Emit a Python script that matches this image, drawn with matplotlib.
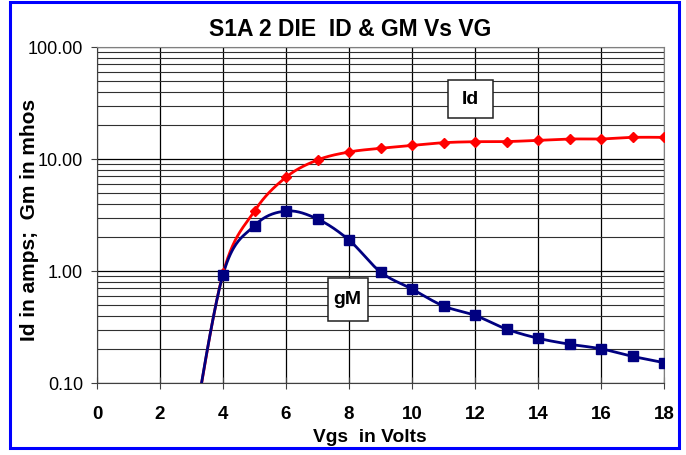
import numpy as np
import matplotlib
matplotlib.use("Agg")
import matplotlib.pyplot as plt
from matplotlib.patches import Rectangle

plt.rcParams['font.family'] = ['Liberation Sans', 'DejaVu Sans']

vgs = [3, 4, 5, 6, 7, 8, 9, 10, 11, 12, 13, 14, 15, 16, 17, 18]
id_amps = [0.03, 0.95, 3.43, 6.87, 9.8, 11.55, 12.46, 13.2, 13.98, 14.27, 14.3,
           14.69, 15.09, 15.1, 15.6, 15.6]
gm_mhos = [0.03, 0.93, 2.54, 3.43, 2.91, 1.89, 0.98, 0.69, 0.487, 0.402, 0.303,
           0.251, 0.222, 0.202, 0.173, 0.152]
xticks = [0, 2, 4, 6, 8, 10, 12, 14, 16, 18]
yticks = [0.1, 1, 10, 100]
ytick_labels = ["0.10", "1.00", "10.00", "100.00"]

W, H = 686, 455


def smooth(xs, ys, n=40):
    P = np.column_stack([np.asarray(xs, float), np.log10(ys)])
    out = []
    for i in range(len(P) - 1):
        p0 = P[i - 1] if i > 0 else P[i]
        p1, p2 = P[i], P[i + 1]
        p3 = P[i + 2] if i + 2 < len(P) else P[i + 1]
        c1 = p1 + (p2 - p0) / 6
        c2 = p2 - (p3 - p1) / 6
        t = np.linspace(0, 1, n)[:, None]
        seg = ((1 - t) ** 3) * p1 + 3 * (1 - t) ** 2 * t * c1 + 3 * (1 - t) * t ** 2 * c2 + t ** 3 * p2
        out.append(seg if i == 0 else seg[1:])
    a = np.vstack(out)
    return a[:, 0], 10 ** a[:, 1]


def fx(px):
    return px / W


def fy(py):
    return 1 - py / H


fig = plt.figure(figsize=(W / 100, H / 100), dpi=100)
ax = fig.add_axes([fx(97), fy(383), (664 - 97) / W, (383 - 47) / H])

ax.set_yscale('log')
ax.set_xlim(0, 18)
ax.set_ylim(0.1, 100)

ax.set_yticks(yticks)
ax.set_yticklabels(ytick_labels, fontsize=13)
ax.yaxis.set_minor_locator(matplotlib.ticker.LogLocator(base=10, subs=np.arange(2, 10)))
ax.yaxis.set_minor_formatter(matplotlib.ticker.NullFormatter())
ax.grid(True, which='major', axis='y', color='black', lw=0.9)
ax.grid(True, which='minor', axis='y', color='#303030', lw=0.8)
ax.set_xticks(xticks)
ax.set_xticklabels([str(v) for v in xticks], fontsize=13.5, fontweight='bold')
ax.grid(True, which='major', axis='x', color='black', lw=0.9)
ax.tick_params(axis='y', which='minor', length=0)
ax.tick_params(axis='y', which='major', length=4.5, direction='out', pad=5.5, color='#404040')
ax.tick_params(axis='x', which='major', length=8, direction='inout', pad=12.5, color='#404040')
for s in ['top', 'right']:
    ax.spines[s].set_color('#808080')
for s in ['left', 'bottom']:
    ax.spines[s].set_color('#404040')
ax.set_axisbelow(True)

xs, ys = smooth(vgs, id_amps)
ax.plot(xs, ys, color='#FF0000', lw=2, zorder=3)
ax.plot(vgs, id_amps, ls='none', marker='D', ms=5, color='#FF0000', zorder=4)
xs, ys = smooth(vgs, gm_mhos)
ax.plot(xs, ys, color='#000080', lw=2, zorder=3)
ax.plot(vgs, gm_mhos, ls='none', marker='s', ms=6.5, color='#000080', zorder=4)

# label boxes
fig.patches.append(Rectangle((fx(447.7), fy(117.7)), 45.6 / W, 37.7 / H, transform=fig.transFigure,
                             fc='white', ec='#202020', lw=1.1, zorder=5))
fig.text(fx(470.5), fy(99), 'Id', ha='center', va='center', fontsize=14, fontweight='bold', zorder=6)
fig.patches.append(Rectangle((fx(327.7), fy(321)), 40 / W, 42.7 / H, transform=fig.transFigure,
                             fc='white', ec='#202020', lw=1.1, zorder=5))
fig.text(fx(347.7), fy(300), 'gM', ha='center', va='center', fontsize=14, fontweight='bold', zorder=6)

fig.text(fx(350.5), fy(29), 'S1A 2 DIE  ID & GM Vs VG', ha='center', va='center',
         fontsize=16.5, fontweight='bold')
fig.text(fx(370), fy(438), 'Vgs  in Volts', ha='center', va='center',
         fontsize=13.8, fontweight='bold')
fig.text(fx(30), fy(220), 'Id in amps;  Gm in mhos', ha='center', va='center',
         rotation=90, fontsize=15, fontweight='bold')

fig.patches.append(Rectangle((fx(10), fy(448)), (679 - 10) / W, (448 - 2) / H,
                             transform=fig.transFigure, fill=False, ec='#0000FF', lw=2.2))

fig.savefig('out.png', dpi=100)
